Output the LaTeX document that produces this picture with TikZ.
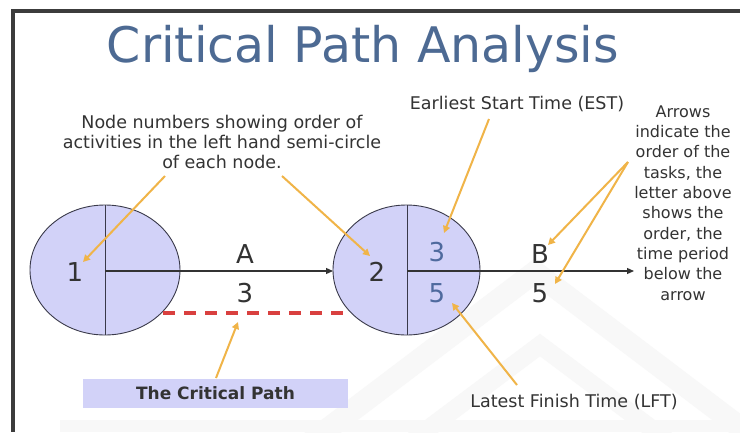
\documentclass[tikz,border=0pt]{standalone}
\usepackage{fontspec}
\setmainfont{DejaVu Sans}
\usetikzlibrary{arrows.meta}
\definecolor{framegray}{HTML}{3C3C3C}
\definecolor{titleblue}{HTML}{4D6A93}
\definecolor{numblue}{HTML}{4F6A9E}
\definecolor{textgray}{HTML}{333333}
\definecolor{nodefill}{HTML}{D2D2F8}
\definecolor{nodeline}{HTML}{3A3A4A}
\definecolor{callout}{HTML}{F0B448}
\definecolor{critred}{HTML}{D9403F}
\definecolor{wmark}{HTML}{F8F8F8}
\tikzset{
  note/.style={font=\fontsize{17.5}{20}\selectfont, text=textgray, align=center, inner sep=0pt},
  sidenote/.style={font=\fontsize{16}{20.3}\selectfont, text=textgray, align=center, inner sep=0pt},
  bignum/.style={font=\fontsize{26}{26}\selectfont, text=textgray, inner sep=0pt},
  bluenum/.style={font=\fontsize{26}{26}\selectfont, text=numblue, inner sep=0pt},
  pointer/.style={callout, line width=2pt, -{Triangle[length=7pt,width=7pt]}},
  activity/.style={textgray, line width=1.2pt, -{Triangle[length=7pt,width=6pt]}},
  eventnode/.style={draw=nodeline, fill=nodefill, line width=0.9pt},
}
\begin{document}
\begin{tikzpicture}[x=1pt,y=-1pt]
\useasboundingbox (0,0) rectangle (740,432);
\fill[white] (0,0) rectangle (740,432);

% faint watermark chevrons
\draw[wmark, line width=22pt] (300,450) -- (535,272) -- (770,450);
\draw[wmark, line width=18pt] (400,450) -- (540,345) -- (680,450);
\fill[wmark] (60,420) rectangle (740,432);

% slide frame
\fill[framegray] (11,9) rectangle (740,13);
\fill[framegray] (11,9) rectangle (15,432);

% title
\node[font=\fontsize{49}{49}\selectfont, text=titleblue, inner sep=0pt, anchor=base]
  (title) at (363,62) {Critical Path Analysis};

% event 1
\draw[eventnode] (105,270) ellipse [x radius=75, y radius=65];
\coordinate (e1top) at (105,205);
\coordinate (e1bot) at (105,335);
\coordinate (e1c) at (105,271);
\draw[nodeline, line width=0.9pt] (e1top) -- (e1bot);
\node[bignum] (n1) at (75,272) {1};

% event 2
\draw[eventnode] (406.5,270) ellipse [x radius=73.5, y radius=65];
\coordinate (e2top) at (407,205);
\coordinate (e2bot) at (407,335);
\coordinate (e2c) at (407,271);
\coordinate (e2left) at (333,271);
\draw[nodeline, line width=0.9pt] (e2top) -- (e2bot);
\node[bignum] (n2) at (377,272) {2};
\node[bluenum] (est) at (437,252) {3};
\node[bluenum] (lft) at (437,293) {5};

% activities
\coordinate (bend) at (634,271);
\draw[activity] (e1c) -- (e2left);
\draw[activity] (e2c) -- (bend);
\node[bignum] (actA) at (245,254) {A};
\node[bignum] (durA) at (245,293) {3};
\node[bignum] (actB) at (540,254) {B};
\node[bignum] (durB) at (540,293) {5};

% critical path marker
\coordinate (cpL) at (163,313);
\coordinate (cpR) at (348,313);
\draw[critred, line width=3.2pt, dash pattern=on 12pt off 9pt] (cpL) -- (cpR);
\node[fill=nodefill, minimum width=265pt, minimum height=29pt, inner sep=0pt,
      font=\fontsize{17}{18}\selectfont\bfseries, text=textgray]
  (cpbox) at (215.5,393.5) {The Critical Path};

% annotations
\node[note] (nodenote) at (222,142)
  {Node numbers showing order of\\activities in the left hand semi-circle\\of each node.};
\node[note] (estnote) at (517,104) {Earliest Start Time (EST)};
\node[note] (lftnote) at (574,402) {Latest Finish Time (LFT)};
\node[sidenote] (arrownote) at (683,203)
  {Arrows\\indicate the\\order of the\\tasks, the\\letter above\\shows the\\order, the\\time period\\below the\\arrow};

% callout pointers
\coordinate (p1s) at (165,176);
\coordinate (p1e) at (83,262);
\coordinate (p2s) at (282,176);
\coordinate (p2e) at (370,256);
\coordinate (p3s) at (489,119);
\coordinate (p3e) at (444,233);
\coordinate (p4s) at (628,162);
\coordinate (p4e) at (548,245);
\coordinate (p5e) at (555,284);
\coordinate (p6s) at (517,385);
\coordinate (p6e) at (452,303);
\coordinate (p7s) at (216,378);
\coordinate (p7e) at (238,322);
\draw[pointer] (p1s) -- (p1e);
\draw[pointer] (p2s) -- (p2e);
\draw[pointer] (p3s) -- (p3e);
\draw[pointer] (p4s) -- (p4e);
\draw[pointer] (p4s) -- (p5e);
\draw[pointer] (p6s) -- (p6e);
\draw[pointer] (p7s) -- (p7e);
\end{tikzpicture}
\end{document}
